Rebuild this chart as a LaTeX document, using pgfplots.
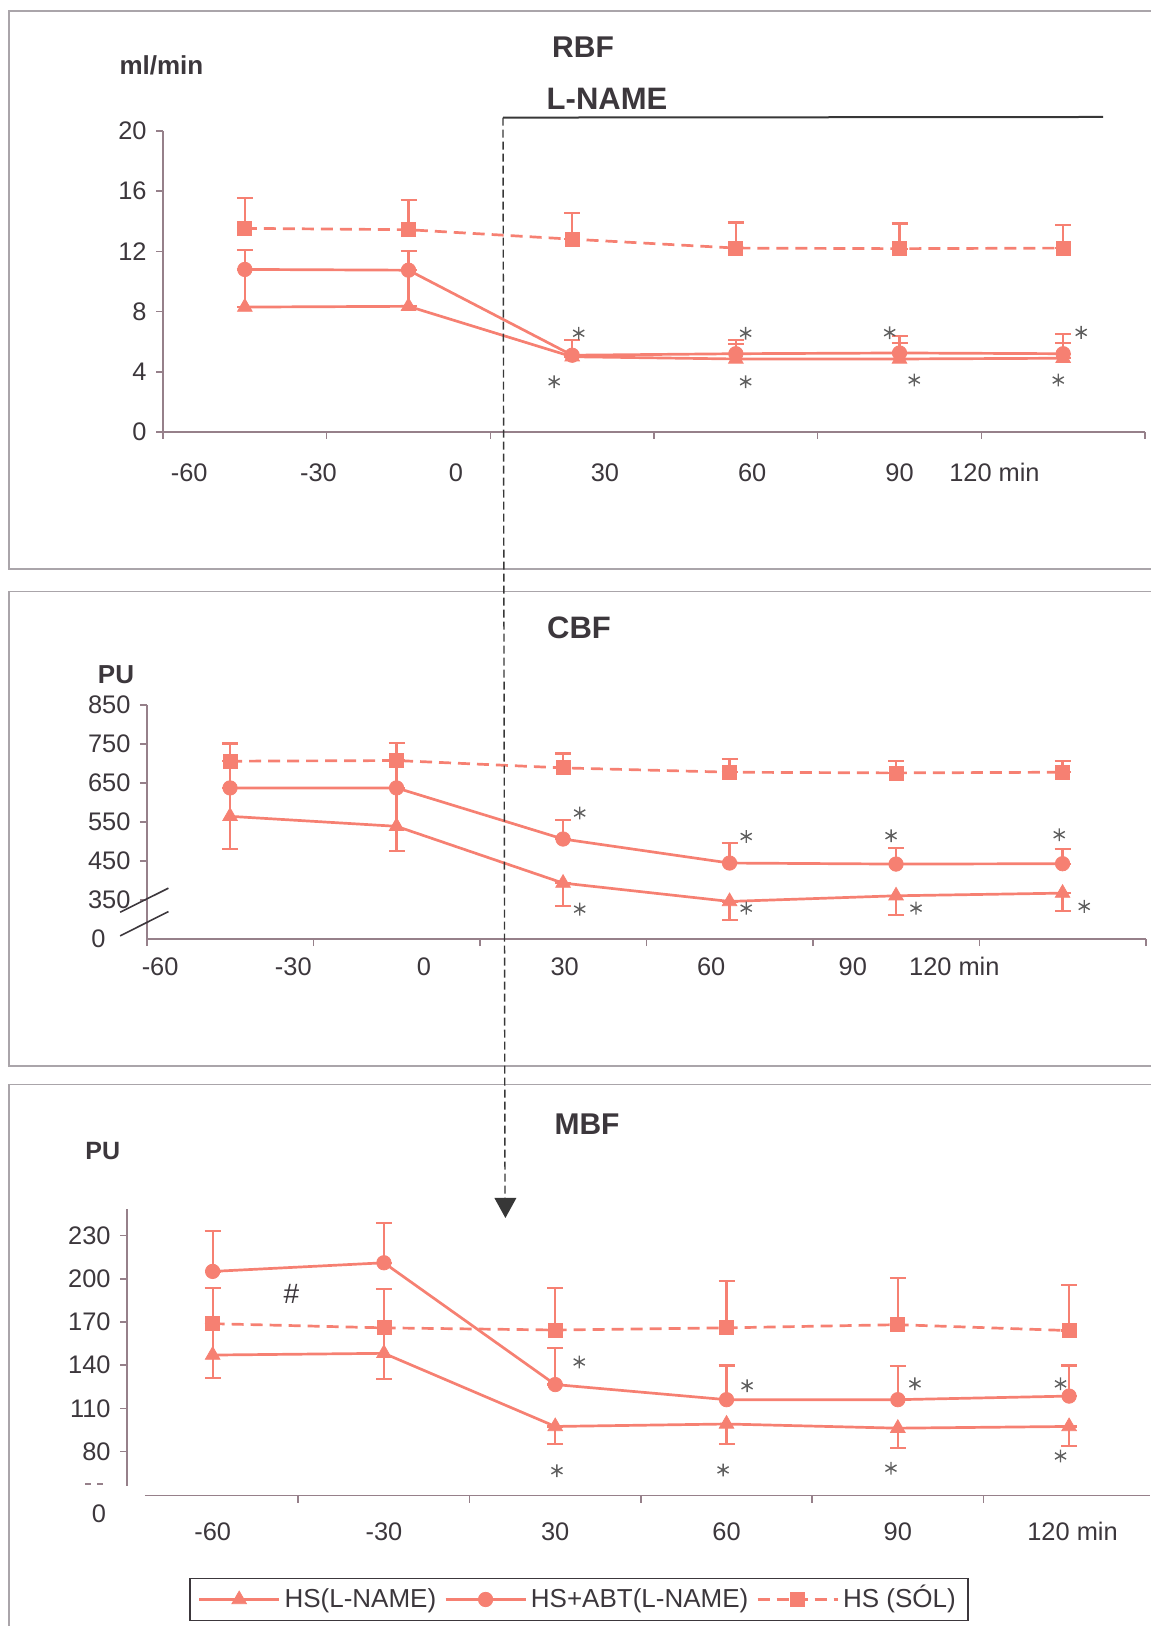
\documentclass[border=0pt]{standalone}
\usepackage{pgfplots}
\pgfplotsset{compat=1.18}
\usepackage{pgfplotstable}
\usepackage{fontspec}
\setmainfont{Liberation Sans}
\usetikzlibrary{arrows.meta}
\definecolor{sal}{RGB}{246,128,114}
\definecolor{axc}{RGB}{150,128,138}
\definecolor{txt}{RGB}{60,55,60}
\definecolor{frm}{RGB}{170,165,170}
\definecolor{ast}{RGB}{95,95,95}
\definecolor{arr}{RGB}{55,55,55}

% ---------- RBF ----------
\pgfplotstableread{
x y ep em
0.5 13.53 2.0 0
1.5 13.44 2.0 0
2.5 12.81 1.75 0
3.5 12.22 1.7 0
4.5 12.18 1.67 0
5.5 12.22 1.53 0
}\rbfsq
\pgfplotstableread{
x y ep em
0.5 10.8 1.3 0
1.5 10.75 1.3 0
2.5 5.1 1.0 0
3.5 5.2 0.9 0
4.5 5.25 1.15 0
5.5 5.2 1.3 0
}\rbfci
\pgfplotstableread{
x y ep em
0.5 8.3 2.5 0
1.5 8.35 2.4 0
2.5 5.0 0 0
3.5 4.85 1.0 0
4.5 4.85 1.05 0
5.5 4.9 1.0 0
}\rbftr
\pgfplotstableread{
x y
2.54 6.56
2.39 3.34
3.56 6.56
3.56 3.34
4.44 6.60
4.59 3.45
5.61 6.62
5.47 3.45
}\rbfast
% ---------- CBF (axis value u = PU - 250 above the break) ----------
\pgfplotstableread{
x y ep em
0.5 455.6 45.3 0
1.5 457.3 45.3 0
2.5 438.5 36.7 0
3.5 427.4 34.1 0
4.5 425.6 30.0 0
5.5 427.4 28.2 0
}\cbfsq
\pgfplotstableread{
x y ep em
0.5 387.2 68.4 0
1.5 387.2 70.1 0
2.5 256.4 49.6 0
3.5 194.9 51.1 0
4.5 192.3 40.7 0
5.5 193.2 37.8 0
}\cbfci
\pgfplotstableread{
x y ep em
0.5 314.5 72.7 83.7
1.5 288.9 98.3 64.1
2.5 143.6 0 58.1
3.5 96.6 0 47.0
4.5 111.1 0 48.7
5.5 117.9 0 45.3
}\cbftr
\pgfplotstableread{
x y
2.60 323
2.60 77
3.60 263
3.60 79.5
4.47 265
4.62 79.5
5.48 267.5
5.63 84
}\cbfast
% ---------- MBF ----------
\pgfplotstableread{
x y ep em
0.5 168.8 24.9 0
1.5 165.9 27.1 0
2.5 164.4 29.3 0
3.5 165.9 32.4 0
4.5 168.1 32.2 0
5.5 164.0 31.4 0
}\mbfsq
\pgfplotstableread{
x y ep em
0.5 205.1 27.8 0
1.5 211.1 27.9 0
2.5 126.5 25.4 0
3.5 116.0 23.8 0
4.5 116.0 23.3 0
5.5 118.5 21.3 0
}\mbfci
\pgfplotstableread{
x y ep em
0.5 147.0 21.8 15.7
1.5 148.2 17.7 18.1
2.5 97.4 0 12.1
3.5 99.1 0 13.8
4.5 96.2 0 14.0
5.5 97.4 0 13.3
}\mbftr
\pgfplotstableread{
x y
2.64 142.2
3.62 125.7
4.60 127.0
5.45 127.0
2.51 66.7
3.48 67.2
4.46 68.4
5.45 76.9
}\mbfast

\pgfplotsset{
  panel/.style={scale only axis, anchor=south west, axis lines*=left,
    tick align=outside, clip=false,
    axis line style={axc, line width=0.8pt},
    every tick/.style={axc, line width=0.8pt},
    major tick length=3.5pt,
    tick label style={font=\fontsize{12.7}{14}\selectfont, text=txt},
    yticklabel style={anchor=east, inner sep=0pt, xshift=-4.5pt},
    xticklabels={},
    extra x tick style={major tick length=0pt,
      xticklabel style={anchor=center, inner sep=0pt}},
  },
  ser/.style={color=sal, line width=1.35pt,
    mark options={solid, fill=sal, draw=sal, line width=0.4pt},
    error bars/y dir=both, error bars/y explicit,
    error bars/error bar style={line width=1.1pt, solid, sal},
    error bars/error mark options={rotate=90, mark size=4pt, line width=1.1pt, solid, sal}},
  tri/.style={ser, mark=triangle*, mark size=4.2pt},
  cir/.style={ser, mark=*, mark size=3.6pt},
  squ/.style={ser, mark=square*, mark size=3.5pt, dash pattern=on 6pt off 3.5pt},
  astk/.style={only marks, mark=asterisk, mark size=3.2pt,
    mark options={draw=ast, line width=0.7pt}, forget plot},
  legend image code/.code={\draw[mark repeat=2,mark phase=2,#1]
    plot coordinates {(0pt,0pt) (20pt,0pt) (40pt,0pt)};},
}

\begin{document}
\begin{tikzpicture}
\path[use as bounding box] (0,0) rectangle (575pt,813pt);
% frames
\draw[frm, line width=0.8pt] (580pt,807.5pt) -- (4.5pt,807.5pt) -- (4.5pt,528.5pt) -- (580pt,528.5pt);
\draw[frm, line width=0.8pt] (580pt,517.2pt) -- (4.5pt,517.2pt) -- (4.5pt,280pt) -- (580pt,280pt);
\draw[frm, line width=0.8pt] (580pt,270.7pt) -- (4.5pt,270.7pt) -- (4.5pt,-5pt);

% ================= RBF =================
\begin{axis}[panel, at={(81.5pt,597pt)}, width=491pt, height=150.5pt,
  xmin=0, xmax=6, ymin=0, ymax=20,
  xtick={0,...,6},
  ytick={0,4,...,20}, yticklabels={0,4,8,12,16,20},
  extra x ticks={0.16,0.95,1.79,2.70,3.60,4.50,5.08},
  extra x tick labels={-60,-30,0,30,60,90,120 min},
  extra x tick style={xticklabel style={yshift=-20.3pt}},
]
\addplot[squ] table[x=x,y=y,y error plus=ep,y error minus=em] {\rbfsq};
\addplot[cir] table[x=x,y=y,y error plus=ep,y error minus=em] {\rbfci};
\addplot[tri] table[x=x,y=y,y error plus=ep,y error minus=em] {\rbftr};
\addplot[astk] table[x=x,y=y] {\rbfast};
\end{axis}

% ================= CBF =================
\begin{axis}[panel, at={(73.4pt,343.4pt)}, width=499.5pt, height=117.2pt,
  xmin=0, xmax=6, ymin=0, ymax=600,
  xtick={0,...,6},
  ytick={100,200,...,600}, yticklabels={350,450,550,650,750,850},
  extra y ticks={0}, extra y tick labels={0},
  extra y tick style={major tick length=0pt, yticklabel style={xshift=-16pt}},
  extra x ticks={0.08,0.88,1.665,2.51,3.39,4.24,4.85},
  extra x tick labels={-60,-30,0,30,60,90,120 min},
  extra x tick style={xticklabel style={yshift=-13.7pt}},
]
\addplot[squ] table[x=x,y=y,y error plus=ep,y error minus=em] {\cbfsq};
\addplot[cir] table[x=x,y=y,y error plus=ep,y error minus=em] {\cbfci};
\addplot[tri] table[x=x,y=y,y error plus=ep,y error minus=em] {\cbftr};
\addplot[astk] table[x=x,y=y] {\cbfast};
\draw[txt, line width=0.8pt] (axis cs:-0.16,69.1) -- (axis cs:0.13,130.6);
\draw[txt, line width=0.8pt] (axis cs:-0.16,8.5) -- (axis cs:0.13,70.7);
\end{axis}

% ================= MBF =================
\begin{axis}[panel, at={(63.5pt,65.15pt)}, width=511.3pt, height=143.45pt,
  xmin=0, xmax=5.97, ymin=49.3, ymax=248.6,
  axis line style={draw=none},
  xtick={1,...,5},
  ytick={80,110,...,230}, yticklabels={80,110,140,170,200,230},
  extra x ticks={0.5,1.5,2.5,3.5,4.5,5.52},
  extra x tick labels={-60,-30,30,60,90,120 min},
  extra x tick style={xticklabel style={yshift=-18pt}},
  legend columns=3,
  legend style={at={(0.4418,-0.3618)}, anchor=center, draw=txt, line width=0.8pt,
    font=\fontsize{13}{15}\selectfont, text=txt,
    /tikz/every even column/.append style={column sep=2pt},
    inner xsep=4pt, inner ysep=3pt},
]
\draw[axc, line width=0.8pt] (axis cs:0,56.3) -- (axis cs:0,248.6);
\draw[axc, line width=0.8pt] (axis cs:0.105,49.3) -- (axis cs:5.97,49.3);
\addplot[tri] table[x=x,y=y,y error plus=ep,y error minus=em] {\mbftr};
\addlegendentry{HS(L-NAME)}
\addplot[cir] table[x=x,y=y,y error plus=ep,y error minus=em] {\mbfci};
\addlegendentry{HS+ABT(L-NAME)}
\addplot[squ] table[x=x,y=y,y error plus=ep,y error minus=em] {\mbfsq};
\addlegendentry{HS (S\smash{Ó}L)}
\addplot[astk] table[x=x,y=y] {\mbfast};
\node[text=txt, font=\fontsize{14}{16}\selectfont] at (axis cs:0.96,189.4) {\#};
\end{axis}

% MBF bottom-left extras
\node[text=txt, font=\fontsize{12.7}{14}\selectfont] at (49.5pt,56pt) {0};
\draw[axc, line width=0.6pt] (42.5pt,71pt) -- (45.5pt,71pt) (48.5pt,71pt) -- (51.5pt,71pt);

% titles and units
\node[text=txt, font=\bfseries\fontsize{13}{15}\selectfont] at (80.7pt,780.3pt) {ml/min};
\node[text=txt, font=\bfseries\fontsize{15}{17}\selectfont] at (291.5pt,789.4pt) {RBF};
\node[text=txt, font=\bfseries\fontsize{15.5}{17}\selectfont] at (303.5pt,763.5pt) {L-NAME};
\node[text=txt, font=\bfseries\fontsize{13}{15}\selectfont] at (58pt,475.5pt) {PU};
\node[text=txt, font=\bfseries\fontsize{15.5}{17}\selectfont] at (289.5pt,498.9pt) {CBF};
\node[text=txt, font=\bfseries\fontsize{12.5}{15}\selectfont] at (51.4pt,237.3pt) {PU};
\node[text=txt, font=\bfseries\fontsize{15}{17}\selectfont] at (293.5pt,250.7pt) {MBF};

% L-NAME marker and dashed arrow
\draw[arr, line width=1pt] (251.5pt,754.2pt) -- (551.5pt,754.5pt);
\draw[arr, line width=0.7pt, dash pattern=on 4pt off 2pt] (251.5pt,754.2pt) -- (252.5pt,214pt);
\fill[arr] (252.7pt,204pt) -- (247.2pt,214pt) -- (258.2pt,214pt) -- cycle;
\end{tikzpicture}
\end{document}
